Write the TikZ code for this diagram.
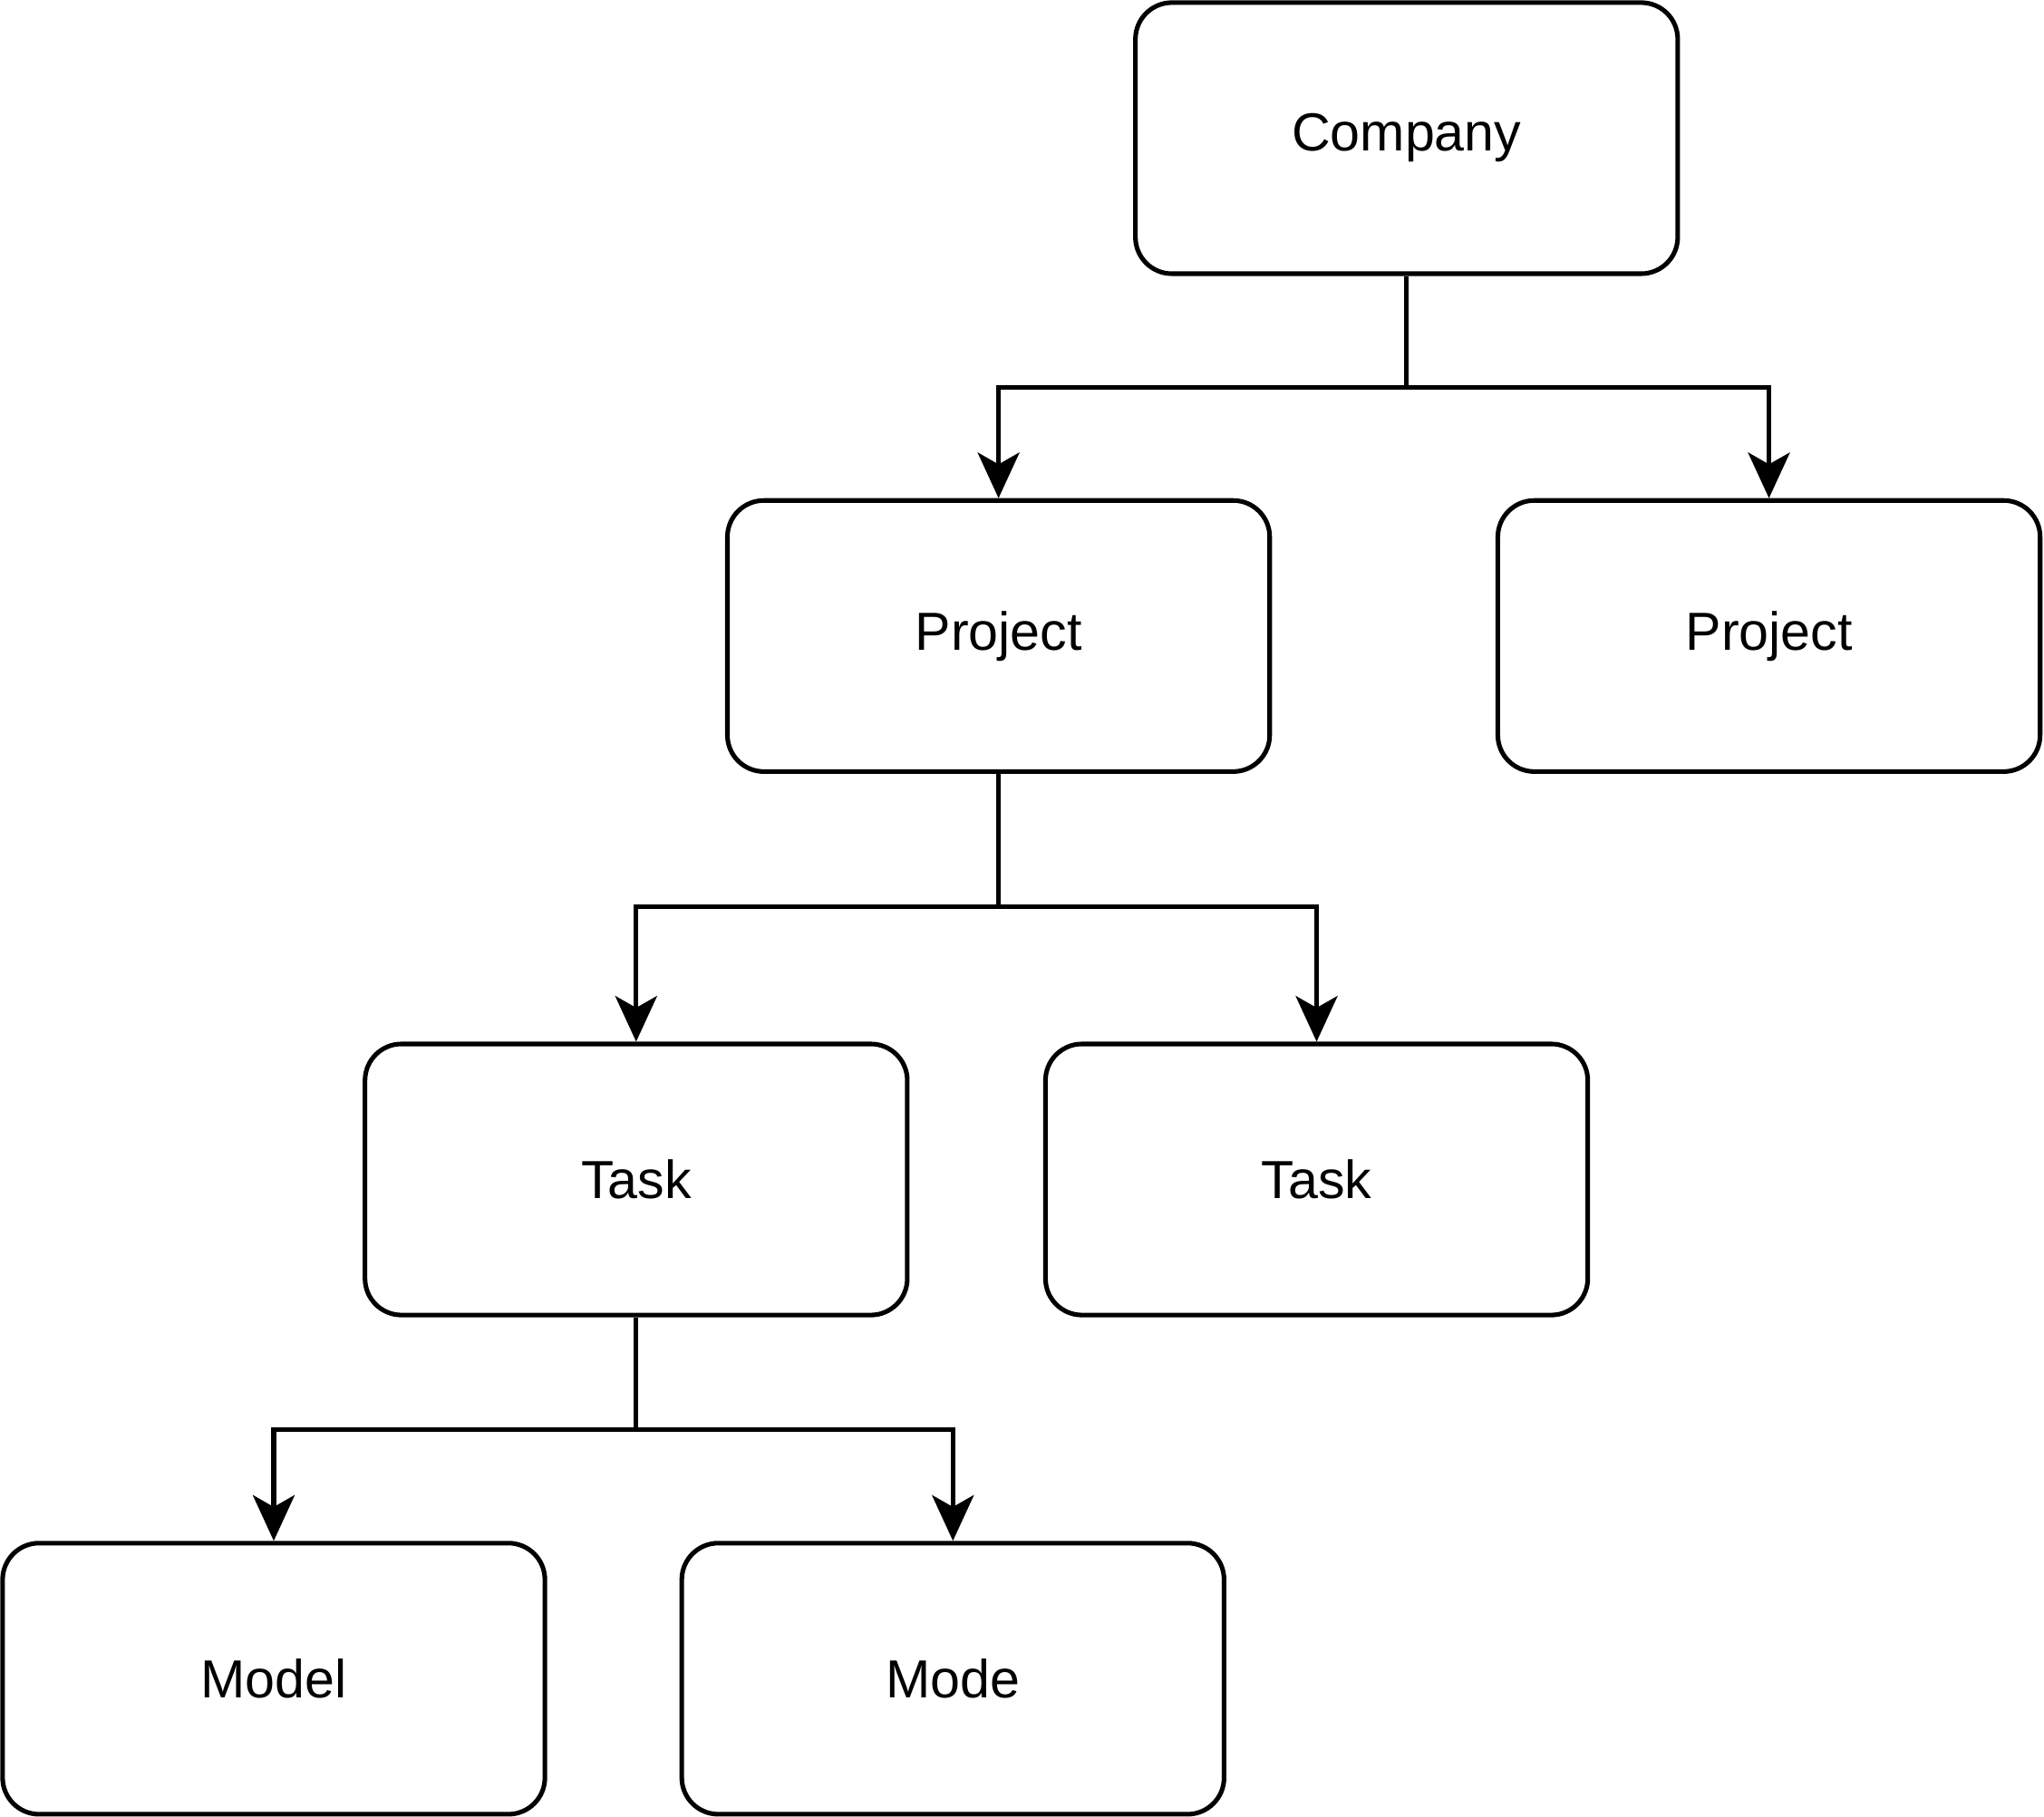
\documentclass[tikz,border=0pt]{standalone}
\usepackage{fontspec}
\setmainfont{Liberation Sans}
\usetikzlibrary{arrows.meta}

\begin{document}
\begin{tikzpicture}[->,>={Stealth[length=3.5mm,width=3.2mm,inset=0.9mm]},line width=1pt,node distance=2cm,
  box/.style={draw,rounded corners=2.8mm,minimum width=4.16cm,minimum height=2.08cm,inner sep=0pt,font=\fontsize{11.7}{14}\selectfont}]

\useasboundingbox (0,0) rectangle (15.68,-13.94);

\node[box] (C) at (10.79,-1.06) {Company};
\node[box] (P1) [below of=C, node distance=3.82cm, xshift=-3.13cm] {Project};
\node[box] (P2) [right of=P1, node distance=5.91cm] {Project};
\node[box] (T1) [below of=P1, node distance=4.17cm, xshift=-2.78cm] {Task};
\node[box] (T2) [right of=T1, node distance=5.22cm] {Task};
\node[box] (M1) [below of=T1, node distance=3.83cm, xshift=-2.78cm] {Model};
\node[box] (M2) [right of=M1, node distance=5.21cm] {Mode};

\node[coordinate] (Cb) [below of=C, node distance=1.91cm] {};
\node[coordinate] (P1b) [below of=P1, node distance=2.08cm] {};
\node[coordinate] (T1b) [below of=T1, node distance=1.92cm] {};

\draw (C) -- (Cb) -| (P1);
\draw (C) -- (Cb) -| (P2);
\draw (P1) -- (P1b) -| (T1);
\draw (P1) -- (P1b) -| (T2);
\draw (T1) -- (T1b) -| (M1);
\draw (T1) -- (T1b) -| (M2);
\end{tikzpicture}
\end{document}
